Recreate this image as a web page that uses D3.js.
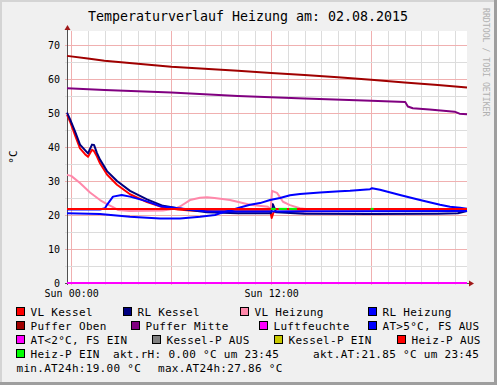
<!DOCTYPE html>
<html lang="de">
<head>
<meta charset="utf-8">
<title>Temperaturverlauf Heizung</title>
<script src="https://cdn.jsdelivr.net/npm/d3@7/dist/d3.min.js"></script>
<style>
  body { margin: 0; background: #fff; }
  svg text { font-family: "DejaVu Sans Mono", monospace; }
</style>
</head>
<body>
<script>
  // hours relative to Sun 00:00 (window 23:45 .. 23:45)
  var hourStart = -0.25, hourEnd = 23.75;
  var timeTicks = [0, 12];
  var timeLabels = ["Sun 00:00", "Sun 12:00"];
  var yTicks = [0, 10, 20, 30, 40, 50, 60, 70];

  var vlKessel = [[-0.25,49.5],[-0.07,47.5],[0.23,43.5],[0.53,39.6],[0.83,37.9],[1.01,37.1],[1.25,39.2],[1.37,38.8],[1.55,37.2],[1.73,35.2],[2.15,31.9],[2.75,28.9],[3.53,26.1],[4.55,23.8],[5.51,22.3],[6.41,21.6],[7.13,21.3],[8.5,21.1],[11.95,21.1],[12.03,19.1],[12.15,20.9],[14,21.1],[18,21.2],[23.75,21.4]];
  var rlKessel = [[-0.25,50.1],[-0.07,48.2],[0.23,44.6],[0.53,40.7],[0.83,39.1],[1.01,38.1],[1.25,40.7],[1.37,40.6],[1.55,38.2],[1.73,36.3],[2.15,32.9],[2.75,30.0],[3.53,27.1],[4.55,24.6],[5.51,22.7],[6.41,22.0],[7.13,21.5],[8.15,20.8],[10,20.5],[11.98,20.5],[12.1,23.2],[12.3,20.8],[14,20.4],[18,20.3],[22,20.4],[23.2,20.5],[23.5,20.9],[23.75,21.2]];
  var vlHeizung = [[-0.25,31.8],[0,31.5],[0.53,29.4],[1.13,26.6],[1.73,24.4],[2.15,23.2],[2.51,22.3],[2.8,21.5],[3.5,21.2],[5.5,21.3],[6.2,21.8],[6.53,22.5],[7.13,24.4],[7.73,25.1],[8.15,25.2],[8.6,25.0],[9.53,24.4],[10.73,23.0],[11.81,22.4],[11.97,21.6],[12.05,27.1],[12.35,26.5],[12.71,23.9],[13.13,22.9],[13.73,22.0],[14.5,21.5],[23.75,21.3]];
  var rlHeizung = [[-0.25,21.6],[1.73,21.6],[2.03,22.0],[2.15,23.0],[2.51,25.4],[3.03,25.9],[3.53,25.4],[4.13,24.6],[4.55,24.0],[5.33,22.6],[6.41,22.0],[7.13,21.6],[8.15,21.0],[10,21.0],[23.75,21.2]];
  var pufferOben = [[-0.25,66.8],[1,66.0],[2,65.4],[4,64.5],[6,63.6],[8,63.0],[10,62.4],[12,61.8],[14,61.2],[16,60.5],[18,59.8],[20,59.0],[22,58.2],[23.75,57.5]];
  var pufferMitte = [[-0.25,57.3],[2,56.8],[6,56.0],[10,55.0],[14,54.3],[18,53.6],[20.05,53.2],[20.2,51.9],[20.5,51.4],[21.5,51.0],[23.0,50.4],[23.3,49.8],[23.75,49.6]];
  var luftfeuchte = [[-0.25,0],[23.75,0]];
  var aussen = [[-0.25,20.5],[1.73,20.3],[3.53,19.5],[5.33,19.0],[6.53,19.0],[7.73,19.5],[8.63,20.0],[8.93,20.5],[9.53,21.3],[10.13,22.2],[10.73,23.0],[11.33,23.5],[11.93,24.4],[12.53,25.0],[13.13,25.8],[13.73,26.2],[14.93,26.6],[16.13,27.0],[16.73,27.1],[17.93,27.6],[18.05,27.86],[18.53,27.4],[19.73,25.9],[20.93,24.4],[22.13,23.0],[22.73,22.4],[23.33,22.1],[23.75,21.85]];
  var heizPLevel = 21.8;
  var heizPEin = [[11.98,12.28],[12.45,12.95],[13.08,13.55],[17.97,18.15]];

  var legendNames = [
    ["VL Kessel", "RL Kessel", "VL Heizung", "RL Heizung"],
    ["Puffer Oben", "Puffer Mitte", "Luftfeuchte", "AT>5°C, FS AUS"],
    ["AT<2°C, FS EIN", "Kessel-P AUS", "Kessel-P EIN", "Heiz-P AUS"],
    ["Heiz-P EIN"]
  ];
  var legendColors = [
    ["#ff0000", "#000080", "#ff88aa", "#0000ff"],
    ["#a00000", "#800080", "#ff00ff", "#0000ff"],
    ["#ff00ff", "#808080", "#c8c800", "#ff0000"],
    ["#00ff00"]
  ];
  var legendX = [[16.5, 123.5, 240.5, 368.5], [16.5, 131.5, 259.5, 368.5], [16.5, 152.5, 274.5, 397.5], [16.5]];
  var infoTexts = [
    {t: "akt.rH: 0.00 °C um 23:45", x: 113, row: 3},
    {t: "akt.AT:21.85 °C um 23:45", x: 313, row: 3},
    {t: "min.AT24h:19.00 °C", x: 16.5, row: 4},
    {t: "max.AT24h:27.86 °C", x: 158, row: 4}
  ];

  var W = 497, H = 385;
  var plotLeft = 67, plotRight = 467, plotTop = 31, plotBottom = 283;

  var svg = d3.select("body").append("svg")
    .attr("width", W).attr("height", H);

  // canvas and 3d frame
  svg.append("rect").attr("width", W).attr("height", H).attr("fill", "#f0f0f0");
  svg.append("rect").attr("x", 0).attr("y", 0).attr("width", W).attr("height", 2).attr("fill", "#d4d4d4");
  svg.append("rect").attr("x", 0).attr("y", 0).attr("width", 2).attr("height", H).attr("fill", "#d4d4d4");
  svg.append("rect").attr("x", 0).attr("y", H - 3).attr("width", W).attr("height", 3).attr("fill", "#9e9e9e");
  svg.append("rect").attr("x", W - 3).attr("y", 0).attr("width", 3).attr("height", H).attr("fill", "#9e9e9e");

  var x = d3.scaleLinear().domain([hourStart, hourEnd]).range([plotLeft, plotRight]);
  var y = d3.scaleLinear().domain([0, 70]).range([plotBottom, plotBottom - 238]);

  svg.append("rect").attr("x", plotLeft).attr("y", plotTop)
    .attr("width", plotRight - plotLeft).attr("height", plotBottom - plotTop).attr("fill", "#fff");

  // grid
  var hours = d3.range(0, 24);
  svg.append("g").selectAll("line").data(hours).enter().append("line")
    .attr("x1", function(d) { return Math.round(x(d)) + 0.5; })
    .attr("x2", function(d) { return Math.round(x(d)) + 0.5; })
    .attr("y1", plotTop).attr("y2", plotBottom + 2)
    .attr("stroke", function(d) { return d % 6 == 0 ? "#f0b0b0" : "#dcdcdc"; })
    .attr("stroke-width", 1);

  var yGrid = d3.range(5, 75, 5);
  svg.append("g").selectAll("line").data(yGrid).enter().append("line")
    .attr("x1", plotLeft - 2).attr("x2", plotRight)
    .attr("y1", function(d) { return Math.round(y(d)) + 0.5; })
    .attr("y2", function(d) { return Math.round(y(d)) + 0.5; })
    .attr("stroke", function(d) { return d % 10 == 0 ? "#f0b0b0" : "#dcdcdc"; })
    .attr("stroke-width", 1);

  // axes
  svg.append("line").attr("x1", plotLeft + 0.5).attr("x2", plotLeft + 0.5)
    .attr("y1", plotBottom + 2).attr("y2", plotTop - 3).attr("stroke", "#505050");
  svg.append("line").attr("x1", plotLeft - 2).attr("x2", plotRight + 4)
    .attr("y1", plotBottom + 0.5).attr("y2", plotBottom + 0.5).attr("stroke", "#505050");
  svg.append("path").attr("d", "M" + (plotLeft - 2.5) + "," + (plotTop - 1) + "L" + (plotLeft + 0.5) + "," + (plotTop - 6) + "L" + (plotLeft + 3.5) + "," + (plotTop - 1) + "Z")
    .attr("fill", "#a01818");
  svg.append("path").attr("d", "M" + (plotRight + 2) + "," + (plotBottom - 2.5) + "L" + (plotRight + 7) + "," + (plotBottom + 0.5) + "L" + (plotRight + 2) + "," + (plotBottom + 3.5) + "Z")
    .attr("fill", "#a01818");

  var yAxis = d3.axisLeft(y).tickValues(yTicks).tickSize(0).tickPadding(7);
  var gy = svg.append("g").attr("transform", "translate(" + plotLeft + ",0)").call(yAxis);
  gy.select(".domain").remove();
  gy.selectAll("text").attr("font-size", "10px").attr("fill", "#000")
    .attr("font-family", "DejaVu Sans Mono, monospace");

  var xAxis = d3.axisBottom(x).tickValues(timeTicks)
    .tickFormat(function(d, i) { return timeLabels[i]; }).tickSize(0).tickPadding(7);
  var gx = svg.append("g").attr("transform", "translate(0," + plotBottom + ")").call(xAxis);
  gx.select(".domain").remove();
  gx.selectAll("text").attr("font-size", "10px").attr("fill", "#000")
    .attr("font-family", "DejaVu Sans Mono, monospace");

  // lines
  var line = d3.line().x(function(d) { return x(d[0]); }).y(function(d) { return y(d[1]); });
  var series = [
    [vlKessel, "#ff0000"], [rlKessel, "#000080"], [vlHeizung, "#ff88aa"], [rlHeizung, "#0000ff"],
    [pufferOben, "#a00000"], [pufferMitte, "#800080"], [luftfeuchte, "#ff00ff"], [aussen, "#0000ff"]
  ];
  series.forEach(function(s) {
    svg.append("path").datum(s[0]).attr("d", line)
      .attr("fill", "none").attr("stroke", s[1]).attr("stroke-width", 2)
      .attr("stroke-linejoin", "round");
  });

  // Heiz-P status
  svg.append("path").datum([[hourStart, heizPLevel], [hourEnd, heizPLevel]]).attr("d", line)
    .attr("fill", "none").attr("stroke", "#ff0000").attr("stroke-width", 2);
  heizPEin.forEach(function(r) {
    svg.append("path").datum([[r[0], heizPLevel], [r[1], heizPLevel]]).attr("d", line)
      .attr("fill", "none").attr("stroke", "#00ff00").attr("stroke-width", 2);
  });

  // title, unit, watermark
  svg.append("text").attr("x", 248).attr("y", 21).attr("text-anchor", "middle")
    .attr("font-size", "13.3px").text("Temperaturverlauf Heizung am: 02.08.2015");
  svg.append("text").attr("transform", "translate(17,157) rotate(-90)").attr("text-anchor", "middle")
    .attr("font-size", "11px").text("°C");
  svg.append("text").attr("transform", "translate(483,8) rotate(90)")
    .attr("font-size", "8.2px").attr("fill", "#b0b0b0").text("RRDTOOL / TOBI OETIKER");

  // legend
  legendNames.forEach(function(row, r) {
    row.forEach(function(name, i) {
      var lx = legendX[r][i], ly = 315.5 + r * 14;
      svg.append("rect").attr("x", lx).attr("y", ly - 8).attr("width", 8).attr("height", 8)
        .attr("fill", legendColors[r][i]).attr("stroke", "#000").attr("stroke-width", 1);
      svg.append("text").attr("x", lx + 14).attr("y", ly).attr("font-size", "11px")
        .attr("letter-spacing", "0.3px").text(name);
    });
  });
  infoTexts.forEach(function(d) {
    svg.append("text").attr("x", d.x).attr("y", 315.5 + d.row * 14).attr("font-size", "11px")
      .attr("letter-spacing", "0.3px").style("white-space", "pre").text(d.t);
  });
</script>
</body>
</html>
